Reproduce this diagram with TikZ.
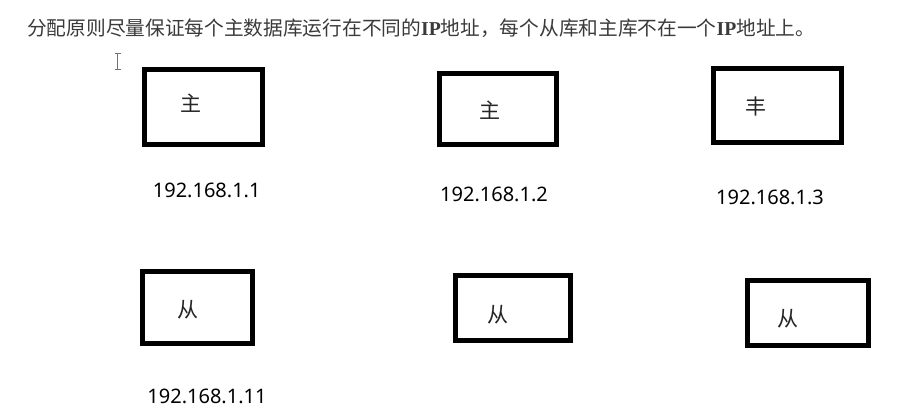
\documentclass[tikz,border=0pt]{standalone}
\usepackage{fontspec}
\setmainfont{Noto Sans}
\newfontfamily\cjk{Noto Sans CJK SC}
\newfontfamily\ipfont{Liberation Serif}
\definecolor{titlegray}{HTML}{3A3A3A}
\definecolor{labelblack}{HTML}{000000}
\tikzset{
  dbbox/.style={draw=black, line width=5pt},
  boxchar/.style={inner sep=0pt, font=\cjk\fontsize{21}{21}\selectfont, text=black!85},
  iplabel/.style={inner sep=0pt, font=\fontsize{20}{20}\selectfont, text=labelblack},
  titletext/.style={inner sep=0pt, anchor=west, font=\cjk\fontsize{19.7}{19.7}\selectfont, text=titlegray},
  cursor/.style={draw=black!55, line width=1pt}
}
\begin{document}
\begin{tikzpicture}[x=1pt,y=-1pt]
\useasboundingbox (0,0) rectangle (906,416);
% title
\node[titletext] (title) at (27,28) {分配原则尽量保证每个主数据库运行在不同的{\ipfont\bfseries IP}地址，每个从库和主库不在一个{\ipfont\bfseries IP}地址上。};
% text cursor
\coordinate (ct) at (117.5,53.5);
\coordinate (cb) at (117.5,69);
\draw[cursor] (ct) -- (cb);
\draw[cursor] ([xshift=-3pt]ct) -- ([xshift=3pt]ct);
\draw[cursor] ([xshift=-3pt]cb) -- ([xshift=3pt]cb);
% boxes
\draw[dbbox] (144,69) rectangle (262.5,144);
\draw[dbbox] (439,73) rectangle (556,144);
\draw[dbbox] (713.5,68.5) rectangle (841,142);
\draw[dbbox] (142.5,271) rectangle (252,343.5);
\draw[dbbox] (455,275) rectangle (570,340);
\draw[dbbox] (747.5,280) rectangle (868,345);
% box texts
\node[boxchar] (m1) at (190.7,102.7) {主};
\node[boxchar] (m2) at (490,110) {主};
\node[boxchar] (m3) at (756,106.7) {丰};
\node[boxchar] (s1) at (188.3,310) {从};
\node[boxchar] (s2) at (498.3,314.3) {从};
\node[boxchar] (s3) at (788.3,318.3) {从};
% labels
\node[iplabel] (ip1) at (206.7,190) {192.168.1.1};
\node[iplabel] (ip2) at (494,194) {192.168.1.2};
\node[iplabel] (ip3) at (770,197.5) {192.168.1.3};
\node[iplabel] (ip11) at (207,396) {192.168.1.11};
\end{tikzpicture}
\end{document}
